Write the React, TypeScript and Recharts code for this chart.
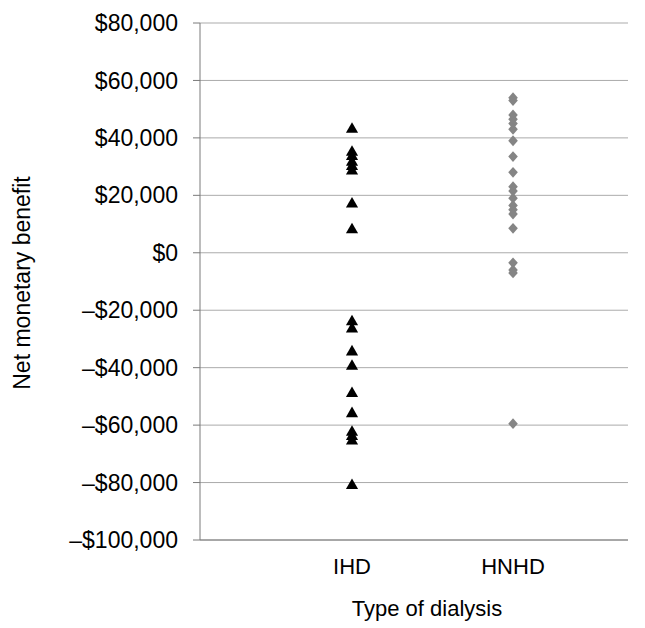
import React from 'react';
import { ScatterChart, Scatter, XAxis, YAxis, ZAxis, CartesianGrid } from 'recharts';

const categories = ['IHD', 'HNHD'];
const ihdValues = [43000, 35000, 33500, 31500, 30000, 28500, 17000, 8000, -24000, -26500, -34500, -39500, -49000, -56000, -62500, -64000, -65500, -81000];
const hnhdValues = [54000, 53000, 48000, 46500, 45000, 43000, 39000, 33500, 28000, 23000, 21500, 19000, 16500, 15000, 13500, 8500, -3500, -6000, -7000, -59500];
const yTicks = [-100000, -80000, -60000, -40000, -20000, 0, 20000, 40000, 60000, 80000];
const xTicks = [1, 2];

const ihdData = ihdValues.map((v) => ({ x: 1, y: v }));
const hnhdData = hnhdValues.map((v) => ({ x: 2, y: v }));

const FONT = '"Liberation Sans", Arial, Helvetica, sans-serif';

const fmtMoney = (v: number) => (v < 0 ? '\u2013' : '') + '$' + Math.abs(v).toLocaleString('en-US');

const Diamond = (props: any) => {
  const { cx, cy } = props;
  if (cx == null || cy == null) return null;
  const w = 4.8;
  const h = 5.4;
  return <path d={`M${cx},${cy - h}L${cx + w},${cy}L${cx},${cy + h}L${cx - w},${cy}Z`} fill="#858585" />;
};

export default function App() {
  return (
    <div style={{ position: 'absolute', left: 0, top: 0, width: 645, height: 628, background: '#fff' }}>
      <ScatterChart width={645} height={628} margin={{ top: 23, right: 17, bottom: 0, left: 0 }}>
        <CartesianGrid vertical={false} stroke="#ababab" />
        <XAxis
          type="number"
          dataKey="x"
          domain={[0.056, 2.714]}
          ticks={xTicks}
          tickFormatter={(v: number) => categories[v - 1] ?? ''}
          tickLine={false}
          tickSize={6}
          tickMargin={12}
          height={88}
          axisLine={{ stroke: '#7a7a7a' }}
          tick={{ fontSize: 22, fill: '#000', fontFamily: FONT }}
          allowDataOverflow
          label={{
            content: () => (
              <text x={427} y={616} textAnchor="middle" fontSize={22} fontFamily={FONT} fill="#000">
                Type of dialysis
              </text>
            ),
          }}
        />
        <YAxis
          type="number"
          dataKey="y"
          domain={[-100000, 80000]}
          ticks={yTicks}
          interval={0}
          width={200}
          tickSize={7}
          tickMargin={15}
          tickFormatter={fmtMoney}
          axisLine={{ stroke: '#7a7a7a' }}
          tickLine={{ stroke: '#7a7a7a' }}
          tick={{ fontSize: 23, fill: '#000', fontFamily: FONT }}
          label={{
            content: () => (
              <text
                x={22}
                y={283}
                transform="rotate(-90, 22, 283)"
                textAnchor="middle"
                dominantBaseline="central"
                fontSize={23}
                fontFamily={FONT}
                fill="#000"
              >
                Net monetary benefit
              </text>
            ),
          }}
        />
        <ZAxis range={[48, 48]} />
        <Scatter data={ihdData} fill="#000" shape="triangle" isAnimationActive={false} />
        <Scatter data={hnhdData} fill="#858585" shape={Diamond} isAnimationActive={false} />
      </ScatterChart>
    </div>
  );
}
